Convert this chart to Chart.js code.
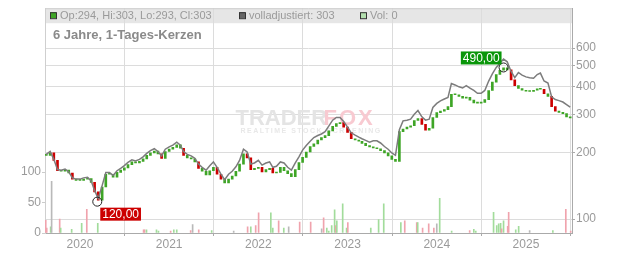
<!DOCTYPE html>
<html>
<head>
<meta charset="utf-8">
<script src="https://cdn.jsdelivr.net/npm/chart.js@4.4.1/dist/chart.umd.min.js"></script>
<style>
  html, body { margin: 0; padding: 0; background: #fff; }
</style>
</head>
<body>
<canvas id="chart" width="632" height="253"></canvas>
<script>
// Schlusskurse, je zum 1. und 16. des Monats (2019-08-16 .. 2025-07-01)
var closes = [
  195, 200, 185, 166, 165, 167, 162, 152, 150,
  150, 152, 153, 147, 133, 122, 140, 160, 160, 155, 163, 167, 171, 177, 182, 180, 183, 188, 195, 200, 204, 198, 189, 203,
  208, 212, 218, 210, 195, 190, 188, 182, 170, 165, 159, 166, 172, 160, 152, 146, 152, 157, 165, 178, 198, 190, 168, 170,
  172, 164, 168, 170, 162, 163, 172, 166, 161, 156, 168, 181, 191, 202, 214, 220, 229, 235, 240, 252, 264, 272, 275, 262,
  248, 232, 229, 226, 221, 216, 213, 211, 209, 205, 200, 194, 187, 183, 250, 257, 262, 266, 281, 287, 270, 254, 259, 290,
  305, 310, 315, 325, 370, 368, 362, 355, 358, 348, 338, 337, 340, 350, 385, 420, 455, 476, 488, 478, 430, 405, 393, 386,
  382, 381, 386, 392, 390, 372, 362, 325, 310, 306, 302, 292, 289
];
// volladjustierte Linie, gleiche Stichtage
var adjusted = [
  197, 203, 187, 168, 167, 169, 164, 154, 152,
  152, 154, 155, 149, 135, 124, 142, 163, 163, 158, 166, 170, 175, 181, 186, 184, 187, 192, 199, 205, 209, 203, 194, 208,
  213, 217, 224, 217, 203, 197, 194, 189, 178, 172, 167, 175, 182, 172, 160, 151, 160, 165, 173, 185, 208, 202, 178, 180,
  185, 176, 180, 182, 172, 174, 182, 180, 172, 167, 180, 192, 206, 216, 226, 235, 240, 244, 250, 265, 282, 290, 290, 278,
  262, 247, 241, 236, 232, 228, 224, 227, 227, 222, 214, 208, 200, 195, 255, 280, 282, 285, 300, 312, 292, 282, 285, 322,
  336, 345, 352, 358, 414, 408, 400, 395, 405, 395, 385, 374, 374, 385, 425, 458, 490, 512, 535, 520, 470, 440, 465, 452,
  444, 440, 438, 455, 462, 425, 416, 360, 350, 346, 341, 332, 323
];
var volDates = ['2019-08-14','2019-08-18','2019-09-03','2019-09-07','2019-10-10','2019-10-14','2019-11-28','2020-01-08','2020-01-29','2020-03-14',
  '2020-09-18','2020-09-22','2020-09-30','2020-11-10','2020-11-18','2021-01-07','2021-01-20','2021-02-01','2021-03-30','2021-04-07',
  '2021-05-02','2021-06-24','2021-09-22','2021-11-18','2021-12-01','2021-12-21','2022-01-02','2022-02-21','2022-03-01','2022-03-25',
  '2022-04-15','2022-05-05','2022-06-19','2022-08-03','2022-09-17','2022-09-25','2022-10-08','2022-10-16','2022-10-28','2022-11-09',
  '2022-11-14','2022-11-18','2022-12-12','2022-12-28','2023-01-02','2023-04-06','2023-05-08','2023-05-29','2023-08-07','2023-08-23',
  '2023-10-11','2023-10-15','2023-11-04','2023-11-29','2023-12-20','2024-01-01','2024-01-13','2024-03-02','2024-05-15','2024-06-01',
  '2024-06-09','2024-08-21','2024-09-03','2024-09-11','2024-09-19','2024-09-23','2024-10-01','2024-10-18','2024-10-22','2024-11-20',
  '2024-12-02','2025-01-16','2025-04-21','2025-06-13','2025-07-03'];
var volValues = [21,8,10,85,23,8,6,16,39,16, 5,5,5,5,3,3,5,5,4,14, 5,4,3,10,10,12,33,33,8,20,
  8,10,18,18,7,25,8,3,12,38, 12,20,48,8,17,8,22,48,17,20, 17,17,8,15,8,15,57,3,4,6,
  3,34,12,15,16,7,20,11,34,5, 11,4,4,39,3];
var volDir = ['r','r','g','k','r','g','g','g','r','g', 'r','r','g','g','g','r','g','g','r','k',
  'r','g','k','r','g','r','r','g','g','r', 'g','k','r','r','k','r','g','g','g','g',
  'r','g','g','g','r','g','g','g','g','r', 'r','g','r','r','r','k','g','g','r','g',
  'g','g','g','g','g','r','g','r','r','g', 'g','k','g','r','r'];
var yearTicks = [2020, 2021, 2022, 2023, 2024, 2025];
var priceTicks = [100, 200, 300, 400, 500, 600];
var volTicks = [0, 50, 100];
var markerDates = ['2020-03-12', '2024-10-01'];
var markerValues = [120, 490];
var markerLabels = ['120,00', '490,00'];

// Stichtage: 1. und 16. jedes Monats
var dates = [];
for (var y = 2019; y <= 2025; y++) {
  for (var m = 1; m <= 12; m++) {
    var mm = (m < 10 ? '0' : '') + m;
    ['01', '16'].forEach(function (d) {
      var s = y + '-' + mm + '-' + d;
      if (s >= '2019-08-16' && s <= '2025-07-01') dates.push(s);
    });
  }
}

function yearFrac(s) {
  var p = s.split('-');
  var yr = +p[0];
  var t = Date.UTC(yr, +p[1] - 1, +p[2]);
  var a = Date.UTC(yr, 0, 1), b = Date.UTC(yr + 1, 0, 1);
  return yr + (t - a) / (b - a);
}

var GREEN = '#3ea526', RED = '#cc0000';
var candleData = [], candleColors = [], adjData = [];
for (var i = 0; i < dates.length; i++) {
  var x = yearFrac(dates[i]);
  var open = i > 0 ? closes[i - 1] : closes[0];
  candleData.push({ x: x, y: [open, closes[i]] });
  // nur deutliche Abschlaege rot, wie im Original meist gruene Kerzen
  candleColors.push(closes[i] < open * 0.96 ? RED : GREEN);
  adjData.push({ x: x, y: adjusted[i] });
}

var volColorMap = { g: '#a2dc9b', r: '#f0a3ad', k: '#b9b9b9' };
var volData = volDates.map(function (d, i) { return { x: yearFrac(d), y: volValues[i] }; });
var volColors = volDir.map(function (c) { return volColorMap[c]; });

var FONT = '"Liberation Sans", Arial, sans-serif';
Chart.defaults.font.family = FONT;

var decor = {
  id: 'decor',
  beforeDraw: function (chart) {
    var ctx = chart.ctx, a = chart.chartArea;
    ctx.save();
    ctx.fillStyle = '#e6e6e6';
    ctx.fillRect(a.left, a.top, a.right - a.left, 15);
    ctx.restore();
  },
  beforeDatasetsDraw: function (chart) {
    var ctx = chart.ctx, a = chart.chartArea;
    var cx = (a.left + a.right) / 2, cy = (a.top + a.bottom) / 2;
    ctx.save();
    ctx.textBaseline = 'alphabetic';
    ctx.font = 'bold 22px ' + FONT;
    ctx.fillStyle = '#e4e4e4';
    ctx.textAlign = 'left';
    ctx.fillText('TRADER', cx - 73, cy + 4);
    ctx.letterSpacing = '2px';
    ctx.fillStyle = '#f8cad1';
    ctx.fillText('FOX', cx + 15, cy + 4);
    ctx.letterSpacing = '1.5px';
    ctx.font = 'bold 7px ' + FONT;
    ctx.fillStyle = '#e8e8e8';
    ctx.fillText('REALTIME STOCK SCREENING', cx - 68, cy + 12);
    ctx.restore();
  },
  afterDraw: function (chart) {
    var ctx = chart.ctx, a = chart.chartArea;
    var xs = chart.scales.x, ys = chart.scales.y;
    ctx.save();
    // Rahmen oben
    ctx.strokeStyle = '#cfcfcf';
    ctx.lineWidth = 1;
    ctx.beginPath();
    ctx.moveTo(a.left, a.top + 0.5); ctx.lineTo(a.right, a.top + 0.5);
    ctx.stroke();

    // Legende
    ctx.font = '11px ' + FONT;
    ctx.textBaseline = 'middle';
    ctx.textAlign = 'left';
    var items = [
      { x: 50, fill: '#3ea526', text: 'Op:294, Hi:303, Lo:293, Cl:303' },
      { x: 239, fill: '#666666', text: 'volladjustiert: 303' },
      { x: 360, fill: '#b3dfae', text: 'Vol: 0' }
    ];
    items.forEach(function (it) {
      ctx.fillStyle = it.fill;
      ctx.fillRect(it.x, a.top + 4, 6, 6);
      ctx.strokeStyle = '#333';
      ctx.strokeRect(it.x + 0.5, a.top + 4.5, 6, 6);
      ctx.fillStyle = '#9a9a9a';
      ctx.fillText(it.text, it.x + 10, a.top + 8);
    });

    // Titel
    ctx.font = 'bold 13px ' + FONT;
    ctx.fillStyle = '#8a8a8a';
    ctx.textBaseline = 'alphabetic';
    ctx.fillText('6 Jahre, 1-Tages-Kerzen', 53, 39);

    // Min/Max Marker
    ctx.font = '12px ' + FONT;
    for (var i = 0; i < markerDates.length; i++) {
      var px = xs.getPixelForValue(yearFrac(markerDates[i]));
      var py = ys.getPixelForValue(markerValues[i]);
      ctx.strokeStyle = '#222';
      ctx.lineWidth = 1;
      ctx.beginPath();
      ctx.arc(px, py, 4.5, 0, Math.PI * 2);
      ctx.stroke();
      var w = ctx.measureText(markerLabels[i]).width + 4;
      var bx, by;
      if (i === 0) { bx = px + 3; by = py + 6; ctx.fillStyle = '#cc0000'; }
      else { bx = px - 2 - w; by = py - 16; ctx.fillStyle = '#0a960a'; }
      ctx.fillRect(bx, by, w, 13);
      ctx.fillStyle = '#fff';
      ctx.textBaseline = 'middle';
      ctx.fillText(markerLabels[i], bx + 2, by + 7);
    }
    ctx.restore();
  }
};

var ctx = document.getElementById('chart').getContext('2d');
new Chart(ctx, {
  type: 'bar',
  data: {
    datasets: [
      { type: 'line', label: 'volladjustiert', data: adjData, yAxisID: 'y',
        borderColor: '#7c7c7c', borderWidth: 1.5, pointRadius: 0, order: 1 },
      { type: 'bar', label: 'Kerzen', data: candleData, yAxisID: 'y',
        backgroundColor: candleColors, barThickness: 2, minBarLength: 1, grouped: false, order: 2 },
      { type: 'bar', label: 'Vol', data: volData, yAxisID: 'yVol',
        backgroundColor: volColors, barThickness: 1, grouped: false, order: 3 }
    ]
  },
  options: {
    responsive: false,
    devicePixelRatio: 1,
    animation: false,
    layout: { padding: { top: 8, left: 0, right: 0, bottom: 0 } },
    plugins: { legend: { display: false }, tooltip: { enabled: false } },
    scales: {
      x: {
        type: 'linear', min: 2019.608, max: 2025.516, offset: false,
        afterBuildTicks: function (s) { s.ticks = yearTicks.map(function (v) { return { value: v }; }); },
        afterFit: function (s) { s.height = 20; },
        ticks: { callback: function (v) { return String(v); }, color: '#9a9a9a', font: { size: 12 },
          padding: 1, maxRotation: 0, autoSkip: false },
        grid: { color: '#dcdcdc', tickLength: 3, tickColor: '#aaa' },
        border: { color: '#aaa' }
      },
      y: {
        type: 'logarithmic', position: 'right', min: 86.4, max: 912,
        afterBuildTicks: function (s) { s.ticks = priceTicks.map(function (v) { return { value: v }; }); },
        afterFit: function (s) { s.width = 60; },
        ticks: { callback: function (v) { return String(v); }, color: '#9a9a9a', font: { size: 12 },
          padding: 1, autoSkip: false },
        grid: { color: '#dcdcdc', tickLength: 3, tickColor: '#aaa' },
        border: { color: '#aaa' }
      },
      yVol: {
        type: 'linear', position: 'left', min: 0, max: 369,
        afterBuildTicks: function (s) { s.ticks = volTicks.map(function (v) { return { value: v }; }); },
        afterFit: function (s) { s.width = 45; },
        ticks: { color: '#9a9a9a', font: { size: 12 }, padding: 1, autoSkip: false },
        grid: { drawOnChartArea: false, tickLength: 3, tickColor: '#ccc' },
        border: { color: '#cfcfcf' }
      }
    }
  },
  plugins: [decor]
});
</script>
</body>
</html>
